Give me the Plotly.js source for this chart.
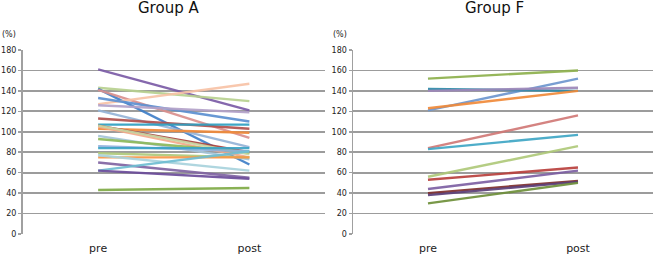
<!DOCTYPE html>
<html>
<head>
<meta charset="utf-8">
<script src="https://cdn.plot.ly/plotly-3.0.1.min.js"></script>
<style>html,body{margin:0;padding:0;background:#fff;}#chart{width:656px;height:258px;}</style>
</head>
<body>
<div id="chart"></div>
<script>
var categories = ['pre', 'post'];

// Group A: [pre, post] per subject
var groupAPre  = [161, 143, 142, 141, 127, 133, 126, 121, 113, 107, 103, 106, 105, 106, 96, 93, 86, 84, 79, 75, 77, 70, 62, 62, 43];
var groupAPost = [121, 130, 68, 94, 147, 110, 119, 85, 103, 107, 99, 80, 75, 78, 73, 80, 81, 84, 75, 75, 62, 55, 81, 54, 45];
var groupAColors = ['#7B5BA6', '#B7D08F', '#3F7FC8', '#D98F8D', '#F7C2A6', '#5B8FD0', '#B3A2C9', '#95B3D7', '#B0504D', '#2E9EC0', '#F08A3A', '#A8403D', '#F4A98A', '#C9D7A3', '#A5C4D8', '#8DB85A', '#8FB0DC', '#3BA3C4', '#AFC97A', '#F79646', '#A8D3DC', '#8064A2', '#6FBDD1', '#6B4C9A', '#7FAA45'];

// Group F
var groupFPre  = [152, 121, 142, 140, 123, 84, 83, 56, 53, 44, 40, 38, 30];
var groupFPost = [160, 152, 140, 143, 140, 116, 97, 86, 65, 62, 52, 51, 50];
var groupFColors = ['#8DB04C', '#6C96CE', '#2F8AA8', '#9C87B8', '#F08A3A', '#D07876', '#3FA6C4', '#AFC97A', '#B9403D', '#7D5FA3', '#7E2F2D', '#5B3F78', '#6E8F3A'];

var yTicks = [0, 20, 40, 60, 80, 100, 120, 140, 160, 180];

var traces = [];
for (var i = 0; i < groupAPre.length; i++) {
  traces.push({x: categories, y: [groupAPre[i], groupAPost[i]], type: 'scatter', mode: 'lines',
    line: {color: groupAColors[i], width: 2.4}, opacity: 0.92, xaxis: 'x', yaxis: 'y', showlegend: false, hoverinfo: 'y'});
}
for (var j = 0; j < groupFPre.length; j++) {
  traces.push({x: categories, y: [groupFPre[j], groupFPost[j]], type: 'scatter', mode: 'lines',
    line: {color: groupFColors[j], width: 2.4}, opacity: 0.92, xaxis: 'x2', yaxis: 'y2', showlegend: false, hoverinfo: 'y'});
}

var yBase = {
  range: [0, 180], tickvals: yTicks, ticktext: yTicks.map(String),
  showgrid: true, gridcolor: '#9c9c9c', gridwidth: 1.7, zeroline: false,
  showline: true, linecolor: '#a0a0a0', linewidth: 1.5,
  ticks: 'outside', ticklen: 3, tickcolor: '#a0a0a0', tickwidth: 1.5,
  tickfont: {family: 'DejaVu Sans', size: 8, color: '#222'}, fixedrange: true
};
var xBase = {
  type: 'category', range: [-0.5, 1.5], showgrid: false, zeroline: false, showline: false,
  ticks: 'outside', ticklen: 0, tickcolor: 'rgba(0,0,0,0)', ticklabelstandoff: 4,
  tickfont: {family: 'DejaVu Sans', size: 11, color: '#222'}, fixedrange: true
};

function clone(o, extra) { var r = JSON.parse(JSON.stringify(o)); for (var k in extra) r[k] = extra[k]; return r; }

var layout = {
  width: 656, height: 258, autosize: false,
  margin: {l: 0, r: 0, t: 0, b: 0},
  paper_bgcolor: '#fff', plot_bgcolor: '#fff',
  xaxis: clone(xBase, {domain: [22.5/656, 325/656], anchor: 'y'}),
  yaxis: clone(yBase, {domain: [24/258, 208/258], anchor: 'x'}),
  xaxis2: clone(xBase, {domain: [353/656, 653/656], anchor: 'y2'}),
  yaxis2: clone(yBase, {domain: [24/258, 208/258], anchor: 'x2'}),
  annotations: [
    {text: 'Group A', x: 168.5, y: 258 - 8, xref: 'paper', yref: 'paper', xanchor: 'center', yanchor: 'middle', showarrow: false, font: {family: 'DejaVu Sans', size: 15, color: '#111'}},
    {text: 'Group F', x: 494, y: 258 - 8, xref: 'paper', yref: 'paper', xanchor: 'center', yanchor: 'middle', showarrow: false, font: {family: 'DejaVu Sans', size: 15, color: '#111'}},
    {text: '(%)', x: 9, y: 258 - 34, xref: 'paper', yref: 'paper', xanchor: 'center', yanchor: 'middle', showarrow: false, font: {family: 'DejaVu Sans', size: 8, color: '#222'}},
    {text: '(%)', x: 340, y: 258 - 34, xref: 'paper', yref: 'paper', xanchor: 'center', yanchor: 'middle', showarrow: false, font: {family: 'DejaVu Sans', size: 8, color: '#222'}}
  ]
};
// convert pixel annotation positions to paper fractions
layout.annotations.forEach(function(a){ a.x = a.x / 656; a.y = a.y / 258; });

Plotly.newPlot('chart', traces, layout, {staticPlot: true, displayModeBar: false});
</script>
</body>
</html>
